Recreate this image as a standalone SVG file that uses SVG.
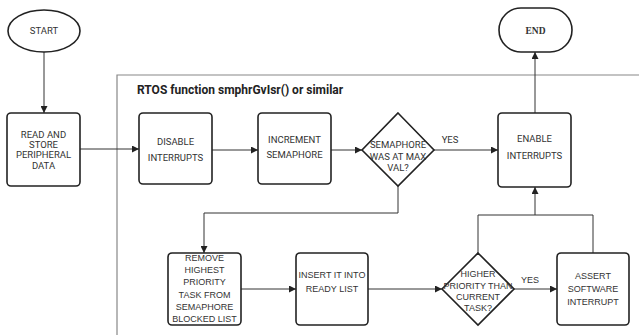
<svg xmlns="http://www.w3.org/2000/svg" width="639" height="335" viewBox="0 0 639 335">
<style>
.box{fill:#fff;stroke:#222;stroke-width:1.6}
.ln{fill:none;stroke:#333;stroke-width:1}
.t{font-family:Roboto,"Liberation Sans",sans-serif;font-size:9.5px;fill:#333;text-anchor:middle}
.c{font-family:"Liberation Sans",sans-serif;font-size:9px;fill:#333;text-anchor:middle}
</style>
<defs>
<marker id="ah" viewBox="0 0 8 8" refX="8" refY="4" markerWidth="7" markerHeight="7" orient="auto" markerUnits="userSpaceOnUse">
<path d="M0,0 L8,4 L0,8 z" fill="#222"/>
</marker>
</defs>
<rect width="639" height="335" fill="#fff"/>
<g id="container">
<path d="M640,75 H117 V336" fill="none" stroke="#888" stroke-width="1.2"/>
<text x="137" y="94" font-family="Roboto,'Liberation Sans',sans-serif" font-size="12" font-weight="bold" fill="#222">RTOS function smphrGvIsr() or similar</text>
</g>
<g id="connectors">
<path class="ln" d="M44,52 V113" marker-end="url(#ah)"/>
<path class="ln" d="M80,149 H139" marker-end="url(#ah)"/>
<path class="ln" d="M212,150 H258" marker-end="url(#ah)"/>
<path class="ln" d="M331,150 H362" marker-end="url(#ah)"/>
<path class="ln" d="M434,150 H498" marker-end="url(#ah)"/>
<path class="ln" d="M535,113 V52" marker-end="url(#ah)"/>
<path class="ln" d="M398,186 V213 H204 V253" marker-end="url(#ah)"/>
<path class="ln" d="M241,289 H296" marker-end="url(#ah)"/>
<path class="ln" d="M368,289 H442" marker-end="url(#ah)"/>
<path class="ln" d="M514,289 H557" marker-end="url(#ah)"/>
<path class="ln" d="M478,253 V215 H593 V253"/>
<path class="ln" d="M535,215 V187" marker-end="url(#ah)"/>
<text class="t" x="450" y="143">YES</text>
<text class="c" x="530" y="283" font-size="9.5">YES</text>
</g>
<g id="start">
<ellipse cx="44" cy="31" rx="36" ry="21" class="box"/>
<text class="t" x="44" y="34">START</text>
</g>
<g id="end">
<rect x="499" y="8" width="73" height="44" rx="22" class="box"/>
<text x="535.5" y="34" font-family="'Liberation Serif',serif" font-size="9.5" font-weight="bold" fill="#333" text-anchor="middle">END</text>
</g>
<g id="read">
<rect x="7" y="113" width="73" height="73" rx="4" class="box"/>
<text class="t" x="43.5" y="138">READ AND</text>
<text class="t" x="43.5" y="148">STORE</text>
<text class="t" x="43.5" y="158">PERIPHERAL</text>
<text class="t" x="43.5" y="169">DATA</text>
</g>
<g id="disable">
<rect x="139" y="113" width="73" height="71" rx="4" class="box"/>
<text class="t" x="175.5" y="145">DISABLE</text>
<text class="t" x="175.5" y="161">INTERRUPTS</text>
</g>
<g id="increment">
<rect x="258" y="113" width="73" height="71" rx="4" class="box"/>
<text class="t" x="294.5" y="143">INCREMENT</text>
<text class="t" x="294.5" y="158">SEMAPHORE</text>
</g>
<g id="maxval">
<polygon points="398,113 434,150 398,186 362,150" class="box"/>
<text class="t" x="398" y="148">SEMAPHORE</text>
<text class="t" x="398" y="160">WAS AT MAX</text>
<text class="t" x="398" y="171">VAL?</text>
</g>
<g id="enable">
<rect x="498" y="113" width="73" height="74" rx="4" class="box"/>
<text class="t" x="534.5" y="142">ENABLE</text>
<text class="t" x="534.5" y="159">INTERRUPTS</text>
</g>
<g id="remove">
<rect x="168" y="253" width="73" height="72" rx="4" class="box"/>
<text class="c" x="204.5" y="261">REMOVE</text>
<text class="c" x="204.5" y="273">HIGHEST</text>
<text class="c" x="204.5" y="285">PRIORITY</text>
<text class="c" x="204.5" y="298">TASK FROM</text>
<text class="c" x="204.5" y="310">SEMAPHORE</text>
<text class="c" x="204.5" y="322">BLOCKED LIST</text>
</g>
<g id="insert">
<rect x="296" y="253" width="72" height="72" rx="4" class="box"/>
<text class="c" x="332" y="278">INSERT IT INTO</text>
<text class="c" x="332" y="292">READY LIST</text>
</g>
<g id="higher">
<polygon points="478,253 514,289 478,325 442,289" class="box"/>
<text class="c" x="478" y="277" font-size="8">HIGHER</text>
<text class="c" x="478" y="288.5" font-size="8">PRIORITY THAN</text>
<text class="c" x="478" y="300" font-size="8">CURRENT</text>
<text class="c" x="478" y="311" font-size="8">TASK?</text>
</g>
<g id="assert">
<rect x="557" y="253" width="72" height="72" rx="4" class="box"/>
<text class="c" x="593" y="279">ASSERT</text>
<text class="c" x="593" y="292">SOFTWARE</text>
<text class="c" x="593" y="305">INTERRUPT</text>
</g>
</svg>
